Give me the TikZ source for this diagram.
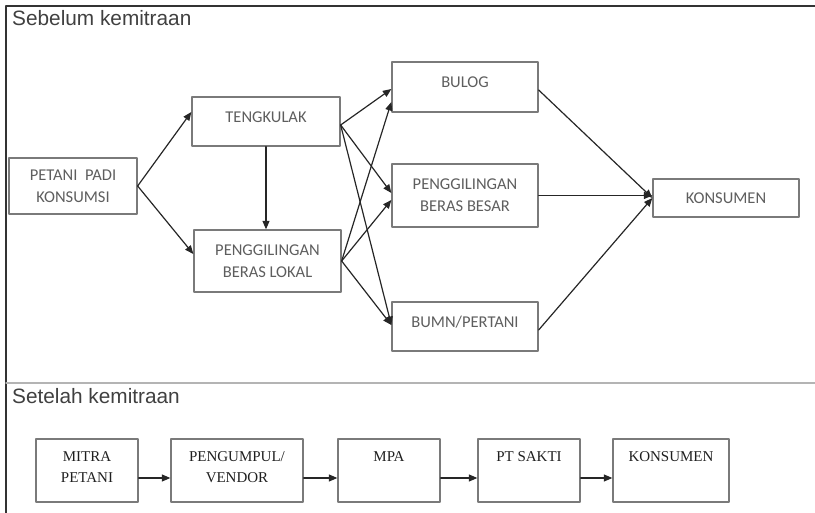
\documentclass[tikz,border=0pt]{standalone}
\usepackage{fontspec}
\setmainfont{Carlito}
\newfontfamily\judulfont{Liberation Sans}
\newfontfamily\seriffont{Liberation Serif}
\usetikzlibrary{arrows,arrows.meta}
\definecolor{garisabu}{HTML}{7A7A7A}
\definecolor{teksabu}{HTML}{5E5E5E}
\definecolor{panahabu}{HTML}{262626}
\definecolor{pisahabu}{HTML}{B4B4B4}

\begin{document}
\begin{tikzpicture}[line cap=round,line join=round,>={Triangle[length=8.5pt,width=7pt]},x=1pt,y=-1pt,
    kotak/.style={draw=garisabu,line width=1.3pt,text=teksabu,align=center,inner sep=0pt,
      minimum width=146pt,font=\fontsize{16.5}{22}\selectfont},
    naik/.style={text height=12pt,text depth=10pt},
    kotakb/.style={draw=garisabu,line width=1.3pt,minimum height=63pt,inner sep=0pt},
    teksb/.style={anchor=north,align=center,inner sep=0pt,yshift=-13pt,text=black!88,
      font=\seriffont\fontsize{15}{21}\selectfont},
    panah/.style={->,line width=1.2pt,color=panahabu}]
    \useasboundingbox (0,0) rectangle (815,513);
    % frame
    \draw [line width=1.3pt,color=black!80] (815,6)-- (6,6)-- (6,513);
    \draw [line width=1.5pt,color=pisahabu] (6,383)-- (815,383);
    \node [anchor=base west,inner sep=0pt,text=black!75,font=\judulfont\fontsize{20.8}{24}\selectfont] (sebelum) at (12,26) {Sebelum kemitraan};
    \node [anchor=base west,inner sep=0pt,text=black!75,font=\judulfont\fontsize{20.8}{24}\selectfont] (setelah) at (12,404) {Setelah kemitraan};
    % sebelum kemitraan
    \node [kotak,minimum width=128pt,minimum height=56pt] (petani) at (73,186) {PETANI\ \ PADI\\KONSUMSI};
    \node [kotak,naik,minimum width=148pt,minimum height=49pt] (tengkulak) at (266,121.5) {TENGKULAK};
    \node [kotak,minimum width=147pt,minimum height=62pt] (lokal) at (267.5,261) {PENGGILINGAN\\BERAS LOKAL};
    \node [kotak,naik,minimum height=50pt] (bulog) at (465,87) {BULOG};
    \node [kotak,minimum height=63pt] (besar) at (465,195.5) {PENGGILINGAN\\BERAS BESAR};
    \node [kotak,naik,minimum height=49pt] (bumn) at (465,326.5) {BUMN/PERTANI};
    \node [kotak,minimum height=38pt] (konsumen) at (726,198) {KONSUMEN};
    \draw [panah] (petani.east)-- ([yshift=9.5pt]tengkulak.west);
    \draw [panah] (petani.east)-- ([yshift=7pt]lokal.west);
    \draw [panah] (tengkulak.south)-- (tengkulak.south |- lokal.north);
    \draw [panah] ([yshift=-3.5pt]tengkulak.east)-- ([yshift=-2pt]bulog.west);
    \draw [panah] ([yshift=-3.5pt]tengkulak.east)-- ([yshift=2.5pt]besar.west);
    \draw [panah] ([yshift=-3.5pt]tengkulak.east)-- ([yshift=1.5pt]bumn.west);
    \draw [panah] (lokal.east)-- ([yshift=-15pt]bulog.west);
    \draw [panah] (lokal.east)-- ([yshift=-4.5pt]besar.west);
    \draw [panah] (lokal.east)-- ([yshift=1.5pt]bumn.west);
    \draw [panah] ([yshift=-3pt]bulog.east)-- (konsumen.west);
    \draw [panah] (besar.east)-- (besar.east -| konsumen.west);
    \draw [panah] ([yshift=-3.5pt]bumn.east)-- (konsumen.west);
    % setelah kemitraan
    \node [kotakb,minimum width=102pt] (mitra) at (87,470.5) {};
    \node [kotakb,minimum width=132pt] (pengumpul) at (237,470.5) {};
    \node [kotakb,minimum width=102pt] (mpa) at (389,470.5) {};
    \node [kotakb,minimum width=102pt] (sakti) at (529,470.5) {};
    \node [kotakb,minimum width=116pt] (konsumenb) at (671,470.5) {};
    \node [teksb] (tmitra) at (mitra.north) {MITRA\\PETANI};
    \node [teksb] (tpengumpul) at (pengumpul.north) {PENGUMPUL/\\VENDOR};
    \node [teksb] (tmpa) at (mpa.north) {MPA};
    \node [teksb] (tsakti) at (sakti.north) {PT SAKTI};
    \node [teksb] (tkonsumenb) at (konsumenb.north) {KONSUMEN};
    \draw [panah] ([yshift=-7.5pt]mitra.east)-- ([yshift=-7.5pt]pengumpul.west);
    \draw [panah] ([yshift=-7.5pt]pengumpul.east)-- ([yshift=-7.5pt]mpa.west);
    \draw [panah] ([yshift=-7.5pt]mpa.east)-- ([yshift=-7.5pt]sakti.west);
    \draw [panah] ([yshift=-7.5pt]sakti.east)-- ([yshift=-7.5pt]konsumenb.west);
\end{tikzpicture}
\end{document}
